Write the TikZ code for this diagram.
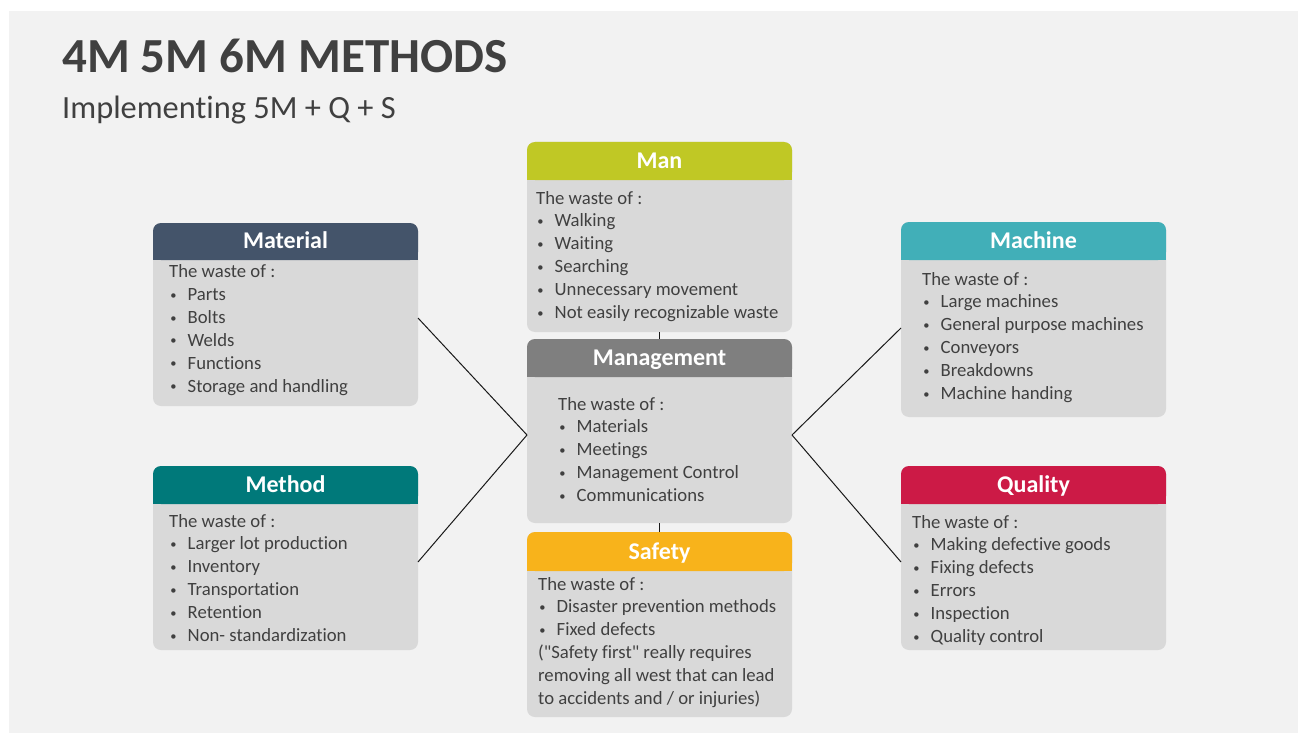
\documentclass[tikz,border=0pt]{standalone}
\usepackage{fontspec}
\setmainfont{Carlito}[Ligatures={TeX,NoCommon}]
\usetikzlibrary{fit}

\definecolor{slide}{HTML}{F2F2F2}
\definecolor{panel}{HTML}{D9D9D9}
\definecolor{ink}{HTML}{404040}
\definecolor{cMaterial}{HTML}{44546A}
\definecolor{cMan}{HTML}{C0C825}
\definecolor{cManagement}{HTML}{7F7F7F}
\definecolor{cSafety}{HTML}{F8B31B}
\definecolor{cMachine}{HTML}{41AFB8}
\definecolor{cMethod}{HTML}{00797A}
\definecolor{cQuality}{HTML}{CC1A46}

% one bulleted entry, with a small bullet
\newcommand\itm[1]{\makebox[18.5pt][l]{\hspace{1.2pt}\raisebox{1.3pt}{\fontsize{12.5}{12.5}\selectfont•}}#1}
% one text line inside a stacked block
\newcommand\wl[1]{\hbox{#1}}
% stacked lines whose reference point is the first baseline
\newcommand\wlines[1]{\vtop{\baselineskip=22.9pt\lineskiplimit=-20pt\lineskip=0pt #1}}

\tikzset{
  panelbox/.style={fill=panel, rounded corners=8pt, inner sep=0pt, outer sep=0pt},
  headtext/.style={anchor=base, inner sep=0pt, text=white,
    font=\bfseries\fontsize{24}{28}\selectfont},
  bodytext/.style={anchor=base west, inner sep=0pt, text=ink,
    font=\fontsize{18.7}{22.9}\selectfont},
  link/.style={draw=black!90, line width=1pt},
}

% name, left, top, right, header bottom, bottom, colour, title
\newcommand\wastebox[8]{%
  \node[panelbox, fit={(#2,#3) (#4,#6)}] (#1) {};
  \fill[#7, rounded corners=8pt] (#2,#3) rectangle (#4,#5);
  \fill[#7] (#2,{#3+12}) rectangle (#4,#5);
  \node[headtext] (#1-head) at ({(#2+#4)/2},{#5-11.5}) {#8};
}

\begin{document}
\begin{tikzpicture}[x=1pt, y=-1pt]
  \useasboundingbox (0,0) rectangle (1298,733);
  \fill[white] (0,0) rectangle (1298,733);
  \fill[slide] (9,11) rectangle (1298,733);

  % heading
  \node[anchor=base west, inner sep=0pt, text=ink,
        font=\bfseries\fontsize{49}{58}\selectfont] (title) at (62,73) {4M 5M 6M METHODS};
  \node[anchor=base west, inner sep=0pt, text=ink,
        font=\fontsize{32.4}{38}\selectfont] (subtitle) at (62,119) {Implementing 5M + Q + S};

  % the seven categories
  \wastebox{man}{527}{142}{792}{180}{332}{cMan}{Man}
  \wastebox{mgmt}{527}{339}{792}{377}{523}{cManagement}{Management}
  \wastebox{safety}{527}{532}{792}{571}{717}{cSafety}{Safety}
  \wastebox{mat}{153}{223}{418}{260}{406}{cMaterial}{Material}
  \wastebox{method}{153}{466}{418}{504}{650}{cMethod}{Method}
  \wastebox{machine}{901}{222}{1166}{260}{417}{cMachine}{Machine}
  \wastebox{quality}{901}{466}{1166}{504}{650}{cQuality}{Quality}

  % contents
  \node[bodytext] (man-t) at (536,204) {\wlines{%
    \wl{The waste of :}\wl{\itm{Walking}}\wl{\itm{Waiting}}\wl{\itm{Searching}}%
    \wl{\itm{Unnecessary movement}}\wl{\itm{Not easily recognizable waste}}}};
  \node[bodytext] (mgmt-t) at (558,410) {\wlines{%
    \wl{The waste of :}\wl{\itm{Materials}}\wl{\itm{Meetings}}%
    \wl{\itm{Management Control}}\wl{\itm{Communications}}}};
  \node[bodytext] (safety-t) at (538,590) {\wlines{%
    \wl{The waste of :}\wl{\itm{Disaster prevention methods}}\wl{\itm{Fixed defects}}%
    \wl{(\textquotedbl Safety first\textquotedbl{} really requires}\wl{removing all west that can lead}%
    \wl{to accidents and / or injuries)}}};
  \node[bodytext] (mat-t) at (169,277.5) {\wlines{%
    \wl{The waste of :}\wl{\itm{Parts}}\wl{\itm{Bolts}}\wl{\itm{Welds}}%
    \wl{\itm{Functions}}\wl{\itm{Storage and handling}}}};
  \node[bodytext] (method-t) at (169,527) {\wlines{%
    \wl{The waste of :}\wl{\itm{Larger lot production}}\wl{\itm{Inventory}}%
    \wl{\itm{Transportation}}\wl{\itm{Retention}}\wl{\itm{Non- standardization}}}};
  \node[bodytext] (machine-t) at (922,285) {\wlines{%
    \wl{The waste of :}\wl{\itm{Large machines}}\wl{\itm{General purpose machines}}%
    \wl{\itm{Conveyors}}\wl{\itm{Breakdowns}}\wl{\itm{Machine handing}}}};
  \node[bodytext] (quality-t) at (912,528) {\wlines{%
    \wl{The waste of :}\wl{\itm{Making defective goods}}\wl{\itm{Fixing defects}}%
    \wl{\itm{Errors}}\wl{\itm{Inspection}}\wl{\itm{Quality control}}}};

  % connectors to the central box
  \draw[link] (man.south) -- (mgmt.north);
  \draw[link] (mgmt.south) -- (safety.north);
  \draw[link] ([yshift=-3.5pt]mat.east) -- ([yshift=-4pt]mgmt.west);
  \draw[link] ([yshift=-4pt]method.east) -- ([yshift=-4pt]mgmt.west);
  \draw[link] ([yshift=-8.5pt]machine.west) -- ([yshift=-4pt]mgmt.east);
  \draw[link] ([yshift=-4pt]quality.west) -- ([yshift=-4pt]mgmt.east);
\end{tikzpicture}
\end{document}
